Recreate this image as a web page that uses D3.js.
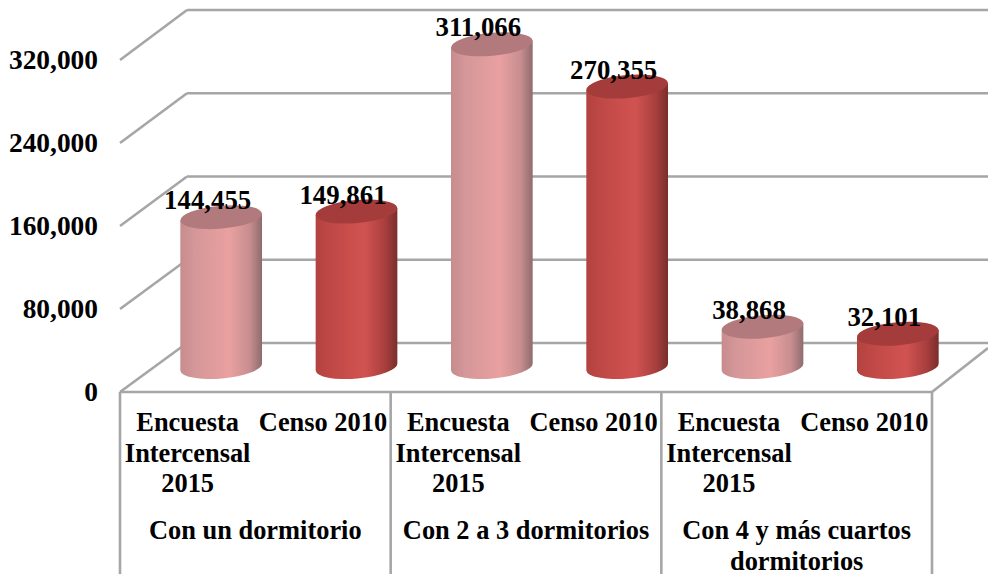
<!DOCTYPE html>
<html lang="es">
<head>
<meta charset="utf-8">
<script src="https://d3js.org/d3.v7.min.js"></script>
<style>
  html, body { margin: 0; padding: 0; background: #fff; }
  text { font-family: "Liberation Serif", serif; font-weight: bold; fill: #000; font-size: 26.4px; }
  text.val { font-size: 26.8px; }
  .grid { stroke: #a6a6a6; stroke-width: 2.6; fill: none; }
  .axis .domain { display: none; }
  .axis text { font-family: "Liberation Serif", serif; font-size: 27.4px; }
</style>
</head>
<body>
<div id="chart"></div>
<script>
var groups = ['Con un dormitorio', 'Con 2 a 3 dormitorios', 'Con 4 y más cuartos dormitorios'];
var groupLines = [['Con un dormitorio'], ['Con 2 a 3 dormitorios'], ['Con 4 y más cuartos', 'dormitorios']];
var seriesLines = [['Encuesta', 'Intercensal', '2015'], ['Censo 2010']];
var encuesta = [144455, 311066, 38868];
var censo = [149861, 270355, 32101];
var yTicks = [0, 80000, 160000, 240000, 320000];

var width = 988, height = 574;
var svg = d3.select('#chart').append('svg').attr('width', width).attr('height', height).style('display', 'block');

// flat list, one entry per cylinder
var bars = [];
groups.forEach(function(g, i) {
  bars.push({key: i + '-0', value: encuesta[i], s: 0});
  bars.push({key: i + '-1', value: censo[i], s: 1});
});

// scales: front edge of the floor, back wall, and the cylinders sitting between them
var xGroup = d3.scaleBand().domain(d3.range(groups.length)).range([120, 932]);
var xBar = d3.scaleBand().domain(bars.map(function(d) { return d.key; })).range([120, 932]);
var depthX = 67, barShift = 33.5, barRx = 41, barRy = 11.5, tilt = -5;
var yFront = d3.scaleLinear().domain([0, 320000]).range([392, 60]);
var yBack = d3.scaleLinear().domain([0, 320000]).range([343, 10]);
var yBar = d3.scaleLinear().domain([0, 320000]).range([367, 35]);

function gradient(id, stops) {
  var g = defs.append('linearGradient').attr('id', id);
  stops.forEach(function(s) { g.append('stop').attr('offset', s[0]).attr('stop-color', s[1]); });
}
var defs = svg.append('defs');
gradient('body0', [[0, '#c68c8e'], [0.18, '#d59799'], [0.6, '#e9a0a0'], [0.85, '#c88e90'], [1, '#8f6b6d']]);
gradient('body1', [[0, '#b3423f'], [0.18, '#bf4846'], [0.6, '#d15351'], [0.85, '#a83f3d'], [1, '#7a2e2c']]);
var topColor = ['#b27a7c', '#a33c3a'];

// gridlines on the back wall + slanted side lines
var grid = svg.append('g');
yTicks.forEach(function(t) {
  grid.append('line').attr('class', 'grid')
    .attr('x1', xGroup(0) + depthX).attr('x2', width)
    .attr('y1', yBack(t)).attr('y2', yBack(t));
  grid.append('line').attr('class', 'grid')
    .attr('x1', xGroup(0)).attr('x2', xGroup(0) + depthX)
    .attr('y1', yFront(t)).attr('y2', yBack(t));
});

// floor front edge, right side and the table dividers below
grid.append('line').attr('class', 'grid')
  .attr('x1', xGroup(0)).attr('x2', xGroup(2) + xGroup.bandwidth())
  .attr('y1', yFront(0)).attr('y2', yFront(0));
grid.append('line').attr('class', 'grid')
  .attr('x1', xGroup(2) + xGroup.bandwidth()).attr('x2', width)
  .attr('y1', yFront(0)).attr('y2', yBack(0) + 5);
d3.range(groups.length + 1).forEach(function(i) {
  var x = xGroup(0) + i * xGroup.step();
  grid.append('line').attr('class', 'grid')
    .attr('x1', x).attr('x2', x).attr('y1', yFront(0)).attr('y2', height);
});

// value axis
svg.append('g').attr('class', 'axis')
  .attr('transform', 'translate(98,0)')
  .call(d3.axisLeft(yFront).tickValues(yTicks).tickFormat(d3.format(',')).tickSize(0).tickPadding(0))
  .call(function(g) { g.selectAll('text').attr('dy', '0.32em').style('fill', '#000'); });

// cylinders
var dx = barRx * Math.cos(tilt * Math.PI / 180), dy = barRx * Math.sin(tilt * Math.PI / 180);
function cx(d) { return xBar(d.key) + xBar.bandwidth() / 2 + barShift; }
var arc = 'A' + barRx + ' ' + barRy + ' ' + tilt + ' 0 0 ';

svg.selectAll('path.body').data(bars).join('path')
  .attr('class', 'body')
  .attr('fill', function(d) { return 'url(#body' + d.s + ')'; })
  .attr('d', function(d) {
    var c = cx(d), t = yBar(d.value), b = yBar(0);
    return 'M' + (c - dx) + ' ' + (t - dy) + 'L' + (c - dx) + ' ' + (b - dy) +
      arc + (c + dx) + ' ' + (b + dy) + 'L' + (c + dx) + ' ' + (t + dy) + 'Z';
  });
svg.selectAll('ellipse.top').data(bars).join('ellipse')
  .attr('class', 'top')
  .attr('rx', barRx).attr('ry', barRy)
  .attr('transform', function(d) { return 'translate(' + cx(d) + ',' + yBar(d.value) + ') rotate(' + tilt + ')'; })
  .attr('fill', function(d) { return topColor[d.s]; });

// value labels
svg.selectAll('text.val').data(bars).join('text')
  .attr('class', 'val')
  .attr('text-anchor', 'middle')
  .attr('x', function(d) { return xBar(d.key) + xBar.bandwidth() / 2 + 20; })
  .attr('y', function(d) { return yBar(d.value) - 8; })
  .text(function(d) { return d3.format(',')(d.value); });

// category labels
bars.forEach(function(d) {
  var x = xBar(d.key) + xBar.bandwidth() / 2;
  seriesLines[d.s].forEach(function(line, i) {
    svg.append('text').attr('text-anchor', 'middle').attr('x', x).attr('y', 431 + i * 30.5).text(line);
  });
});
groupLines.forEach(function(lines, g) {
  lines.forEach(function(line, i) {
    svg.append('text').attr('text-anchor', 'middle')
      .attr('x', xGroup(g) + xGroup.bandwidth() / 2)
      .attr('y', 539 + i * 30.5).text(line);
  });
});
</script>
</body>
</html>
